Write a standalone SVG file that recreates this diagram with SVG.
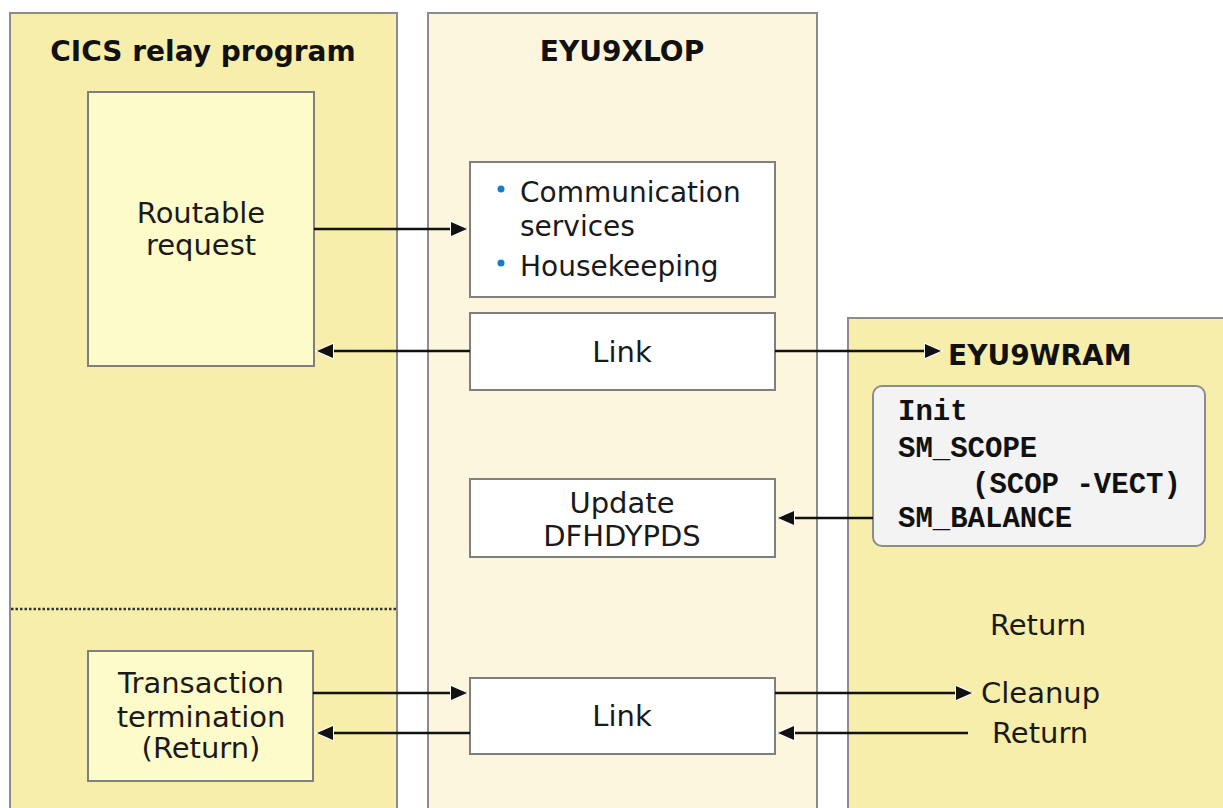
<svg xmlns="http://www.w3.org/2000/svg" width="1223" height="808" viewBox="0 0 1223 808">
<style>
.col{stroke:#8c8c8c;stroke-width:2}
.box{fill:#ffffff;stroke:#7f7f7f;stroke-width:2}
.ybox{fill:#fdfbc9;stroke:#7f7f7f;stroke-width:2}
.t{font-family:"DejaVu Sans",Verdana,sans-serif;font-size:29px;fill:#1a1a1a}
.s{font-size:28px}
.c{text-anchor:middle}
.h{font-family:"DejaVu Sans",Verdana,sans-serif;font-size:28px;font-weight:bold;fill:#111}
.m{font-family:"Liberation Mono","Courier New",monospace;font-size:29px;font-weight:bold;fill:#111}
.con{stroke:#111;stroke-width:2.5;fill:none}
</style>
<defs>
<marker id="ah" viewBox="0 0 20 18" refX="18" refY="9" markerWidth="20" markerHeight="18" markerUnits="userSpaceOnUse" orient="auto">
<path d="M2,2 L18,9 L2,16 z" fill="#111" stroke="#ffffff" stroke-width="2" paint-order="stroke"/>
</marker>
</defs>
<rect width="1223" height="808" fill="#ffffff"/>
<g id="col-cics">
<rect class="col" x="10" y="13" width="387" height="810" fill="#f6eeaa"/>
<text class="h c" x="203" y="61">CICS relay program</text>
<line x1="11" y1="609" x2="396" y2="609" stroke="#333" stroke-width="2.5" stroke-dasharray="2.5,2"/>
</g>
<g id="col-xlop">
<rect class="col" x="428" y="13" width="389" height="810" fill="#fdf6df"/>
<text class="h c" x="622" y="61">EYU9XLOP</text>
</g>
<g id="col-wram">
<rect class="col" x="848" y="318" width="390" height="510" fill="#f6eeaa"/>
<text class="h" x="948" y="365">EYU9WRAM</text>
</g>
<g id="routable">
<rect class="ybox" x="88" y="92" width="226" height="274"/>
<text class="t c" x="201" y="223">Routable</text>
<text class="t c" x="201" y="255">request</text>
</g>
<g id="comm">
<rect class="box" x="470" y="162" width="305" height="135"/>
<circle cx="501" cy="189" r="3.5" fill="#1a7cc9"/>
<circle cx="501" cy="263" r="3.5" fill="#1a7cc9"/>
<text class="t s" x="520" y="202">Communication</text>
<text class="t s" x="520" y="236">services</text>
<text class="t s" x="520" y="276">Housekeeping</text>
</g>
<g id="link1">
<rect class="box" x="470" y="313" width="305" height="77"/>
<text class="t c" x="622" y="362">Link</text>
</g>
<g id="wram-box">
<rect x="873" y="386" width="332" height="160" rx="9" fill="#f3f3f3" stroke="#8c8c8c" stroke-width="2"/>
<text class="m" x="898" y="420">Init</text>
<text class="m" x="898" y="457">SM_SCOPE</text>
<text class="m" x="972" y="493">(SCOP -VECT)</text>
<text class="m" x="898" y="527">SM_BALANCE</text>
</g>
<g id="update">
<rect class="box" x="470" y="479" width="305" height="78"/>
<text class="t c" x="622" y="513">Update</text>
<text class="t c" x="622" y="546">DFHDYPDS</text>
</g>
<g id="return-label">
<text class="t c" x="1038" y="635">Return</text>
</g>
<g id="trans">
<rect class="ybox" x="88" y="651" width="225" height="130"/>
<text class="t c" x="201" y="693">Transaction</text>
<text class="t c" x="201" y="727">termination</text>
<text class="t c" x="201" y="758">(Return)</text>
</g>
<g id="link2">
<rect class="box" x="470" y="678" width="305" height="76"/>
<text class="t c" x="622" y="726">Link</text>
</g>
<g id="cleanup">
<text class="t" x="981" y="703">Cleanup</text>
<text class="t" x="992" y="743">Return</text>
</g>
<g id="connectors">
<line class="con" x1="314" y1="229" x2="467" y2="229" marker-end="url(#ah)"/>
<line class="con" x1="470" y1="351" x2="317" y2="351" marker-end="url(#ah)"/>
<line class="con" x1="775" y1="351" x2="941" y2="351" marker-end="url(#ah)"/>
<line class="con" x1="873" y1="518" x2="778" y2="518" marker-end="url(#ah)"/>
<line class="con" x1="313" y1="693" x2="467" y2="693" marker-end="url(#ah)"/>
<line class="con" x1="470" y1="733" x2="317" y2="733" marker-end="url(#ah)"/>
<line class="con" x1="775" y1="693" x2="972" y2="693" marker-end="url(#ah)"/>
<line class="con" x1="968" y1="733" x2="778" y2="733" marker-end="url(#ah)"/>
</g>
</svg>
